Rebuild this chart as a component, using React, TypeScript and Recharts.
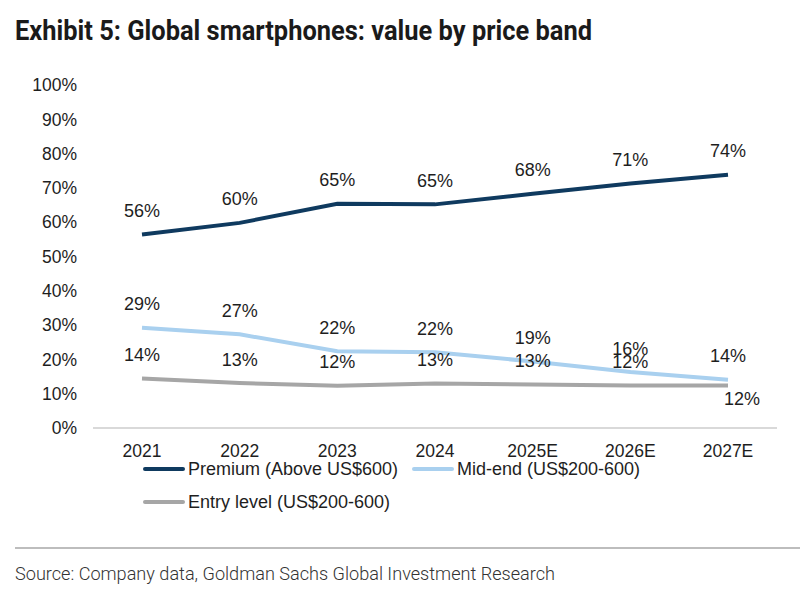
import { LineChart, Line, XAxis, YAxis } from "recharts";

// ---------------------------------------------------------------------------
// Data
// ---------------------------------------------------------------------------

const years = ["2021", "2022", "2023", "2024", "2025E", "2026E", "2027E"];
const premium = [56.4, 59.8, 65.4, 65.2, 68.3, 71.3, 73.8];
const midEnd = [29.2, 27.3, 22.4, 22.1, 19.4, 16.3, 14.1];
const entry = [14.4, 13.1, 12.3, 13.0, 12.7, 12.4, 12.4];
const yTicks = [0, 10, 20, 30, 40, 50, 60, 70, 80, 90, 100];

const seriesNames = ["Premium (Above US$600)", "Mid-end (US$200-600)", "Entry level (US$200-600)"];

const colors = {
  premium: "#0f3a5f",
  midEnd: "#a9d0ef",
  entry: "#a6a6a6",
  text: "#1e1e1e",
  axis: "#d9d9d9",
};

const FONT = "Arial, 'Liberation Sans', Helvetica, sans-serif";

const chartData = years.map((y, i) => ({
  year: y,
  premium: premium[i],
  midEnd: midEnd[i],
  entry: entry[i],
}));

// ---------------------------------------------------------------------------
// Labels
// ---------------------------------------------------------------------------

function makeLabel(belowLast: boolean) {
  return (props: any) => {
    const { x, y, value, index } = props;
    const last = belowLast && index === years.length - 1;
    return (
      <text
        key={`lbl-${index}`}
        x={last ? x + 14 : x}
        y={last ? y + 19.5 : y - 17.5}
        textAnchor="middle"
        fontSize={18}
        fontFamily={FONT}
        fill={colors.text}
      >
        {`${Math.round(Number(value))}%`}
      </text>
    );
  };
}

// ---------------------------------------------------------------------------
// Component
// ---------------------------------------------------------------------------

export default function App() {
  const legendItems = [
    { name: seriesNames[0], color: colors.premium, left: 143, top: 469 },
    { name: seriesNames[1], color: colors.midEnd, left: 412, top: 469 },
    { name: seriesNames[2], color: colors.entry, left: 143, top: 502 },
  ];

  return (
    <div
      style={{
        position: "absolute",
        top: 0,
        left: 0,
        width: 807,
        height: 598,
        background: "#fff",
        fontFamily: FONT,
        overflow: "hidden",
      }}
    >
      {/* Title */}
      <svg width={807} height={60} style={{ position: "absolute", top: 0, left: 0 }}>
        <text
          x={15}
          y={40}
          fontSize={28}
          fontWeight={700}
          fontFamily="Roboto, 'Liberation Sans', sans-serif"
          fill="#1a1a1a"
          textLength={577}
          lengthAdjust="spacingAndGlyphs"
        >
          Exhibit 5: Global smartphones: value by price band
        </text>
      </svg>

      {/* Chart */}
      <div style={{ position: "absolute", top: 0, left: 0 }}>
        <LineChart
          width={807}
          height={470}
          data={chartData}
          margin={{ top: 85, right: 30, bottom: 0, left: 0 }}
        >
          <XAxis
            dataKey="year"
            height={42}
            padding={{ left: 49, right: 49 }}
            tickLine={false}
            axisLine={{ stroke: colors.axis, strokeWidth: 2 }}
            tickMargin={11}
            tick={{ fontSize: 17.5, fill: colors.text, fontFamily: FONT }}
            interval={0}
          />
          <YAxis
            width={93}
            domain={[0, 100]}
            ticks={yTicks}
            interval={0}
            tickLine={false}
            axisLine={false}
            tickMargin={10}
            tickFormatter={(v: number) => `${v}%`}
            tick={{ fontSize: 17.5, fill: colors.text, fontFamily: FONT }}
          />
          <Line
            type="linear"
            dataKey="entry"
            stroke={colors.entry}
            strokeWidth={4}
            dot={false}
            isAnimationActive={false}
            label={makeLabel(true)}
          />
          <Line
            type="linear"
            dataKey="midEnd"
            stroke={colors.midEnd}
            strokeWidth={4}
            dot={false}
            isAnimationActive={false}
            label={makeLabel(false)}
          />
          <Line
            type="linear"
            dataKey="premium"
            stroke={colors.premium}
            strokeWidth={4}
            dot={false}
            isAnimationActive={false}
            label={makeLabel(false)}
          />
        </LineChart>
      </div>

      {/* Legend */}
      {legendItems.map((item) => (
        <div
          key={item.name}
          style={{
            position: "absolute",
            left: item.left,
            top: item.top - 11,
            height: 22,
            display: "flex",
            alignItems: "center",
            fontSize: 18,
            color: colors.text,
            whiteSpace: "nowrap",
          }}
        >
          <div
            style={{
              width: 42,
              height: 4,
              borderRadius: 2,
              background: item.color,
              marginRight: 3,
            }}
          />
          <span>{item.name}</span>
        </div>
      ))}

      {/* Source */}
      <div
        style={{
          position: "absolute",
          left: 15,
          top: 547,
          width: 785,
          height: 2,
          background: "#bdbdbd",
        }}
      />
      <svg width={807} height={40} style={{ position: "absolute", top: 555, left: 0 }}>
        <text
          x={15}
          y={25}
          fontSize={19}
          fontFamily="Roboto, 'Liberation Sans', sans-serif"
          fontWeight={300}
          fill="#333"
          textLength={540}
          lengthAdjust="spacingAndGlyphs"
        >
          Source: Company data, Goldman Sachs Global Investment Research
        </text>
      </svg>
    </div>
  );
}
